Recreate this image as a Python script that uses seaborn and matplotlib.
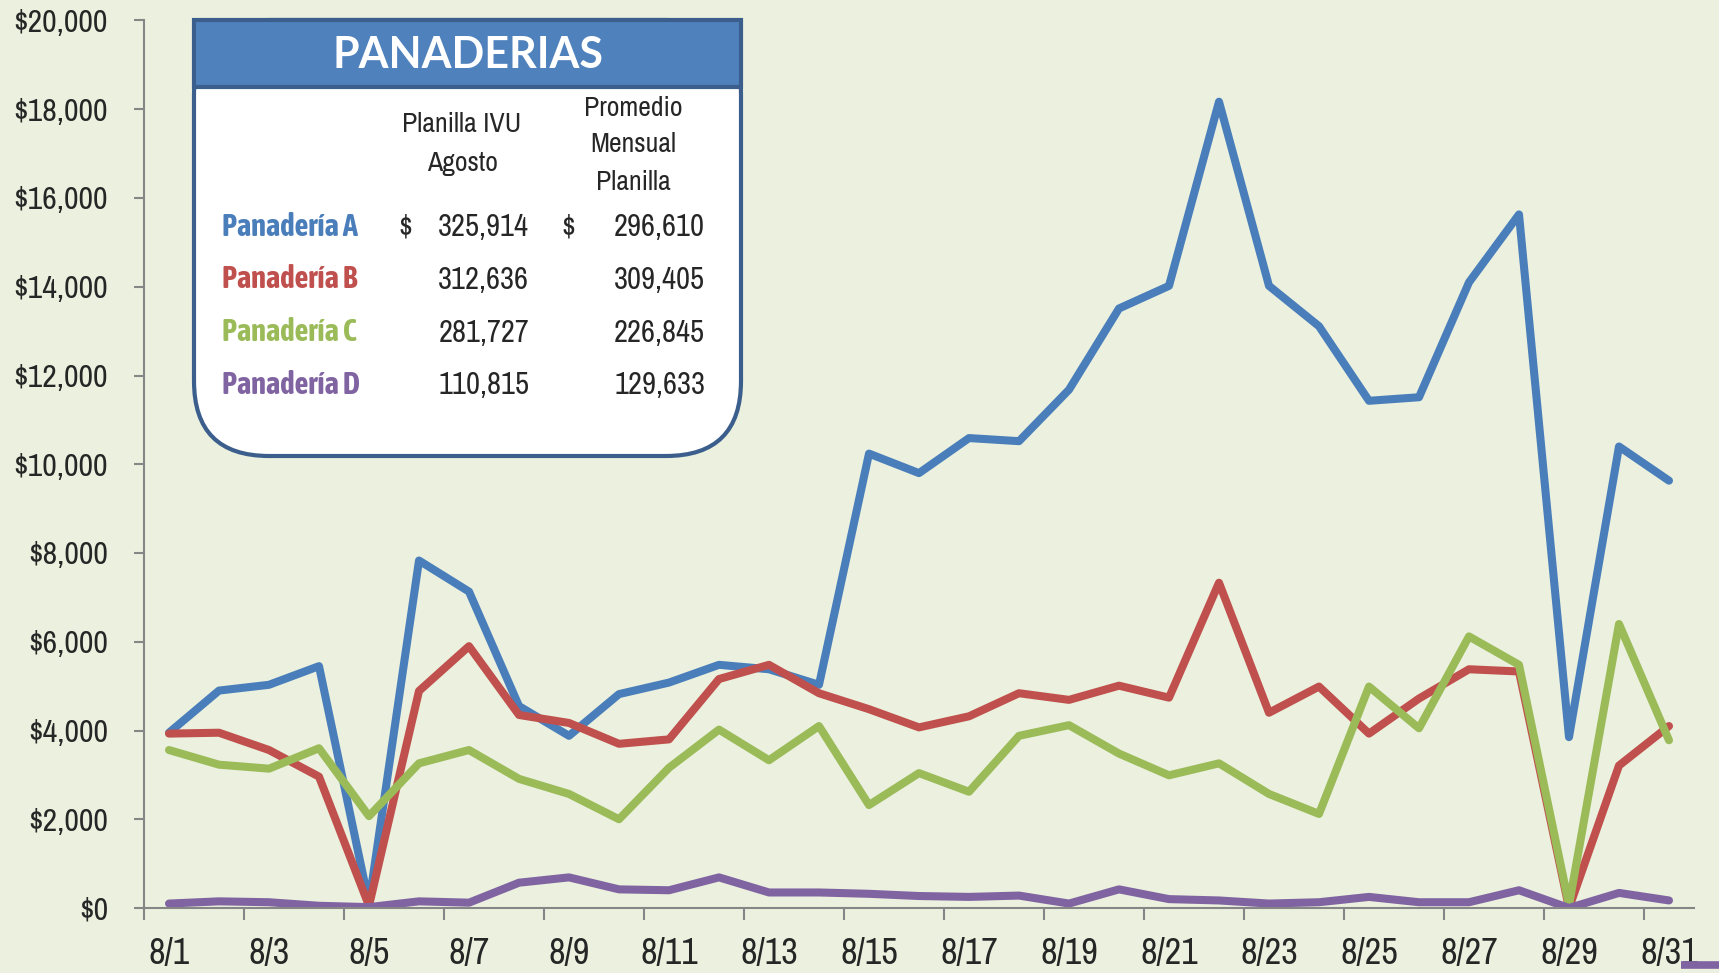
import numpy as np
import pandas as pd
import matplotlib.pyplot as plt
import matplotlib.ticker as ticker
import seaborn as sns
from matplotlib import font_manager
from matplotlib.patches import FancyBboxPatch, Rectangle

# datos diarios de ventas (agosto)
dias = [f'8/{d}' for d in range(1, 32)]
panaderia_a = [3950, 4900, 5030, 5450, 100, 7830, 7130, 4550, 3880, 4820,
               5080, 5480, 5380, 5030, 10240, 9800, 10590, 10520, 11680, 13510,
               14020, 18170, 14020, 13110, 11430, 11510, 14100, 15630, 3850, 10400,
               9630]
panaderia_b = [3930, 3950, 3560, 2960, 50, 4890, 5900, 4350, 4170, 3700,
               3800, 5160, 5480, 4840, 4480, 4070, 4320, 4840, 4690, 5010,
               4740, 7330, 4400, 4990, 3930, 4720, 5380, 5330, 0, 3210,
               4100]
panaderia_c = [3560, 3230, 3140, 3600, 2070, 3260, 3560, 2910, 2570, 2000,
               3160, 4020, 3330, 4100, 2320, 3040, 2620, 3880, 4120, 3480,
               2990, 3260, 2570, 2120, 4990, 4050, 6120, 5480, 70, 6400,
               3780]
panaderia_d = [100, 150, 130, 50, 20, 150, 120, 570, 690, 420,
               400, 690, 350, 350, 320, 270, 250, 280, 100, 420,
               200, 170, 100, 130, 250, 130, 130, 400, 0, 340,
               170]

# tabla del recuadro
nombres = ['Panadería A', 'Panadería B', 'Panadería C', 'Panadería D']
planilla_agosto = ['325,914', '312,636', '281,727', '110,815']
promedio_mensual = ['296,610', '309,405', '226,845', '129,633']

colores = ['#4A7EBB', '#C0504D', '#9BBB59', '#8064A2']
BG = '#EBF1DE'
GRIS = '#868686'

sns.set_style('ticks')
nombres_fuentes = {f.name for f in font_manager.fontManager.ttflist}
if 'Archivo Narrow' in nombres_fuentes:
    NARROW = dict(fontfamily='Archivo Narrow')
else:
    NARROW = dict(fontfamily='Open Sans', fontstretch='condensed')
# negrita estrecha para los nombres de la tabla
if 'Asap Condensed' in nombres_fuentes:
    NARROW_B = dict(fontfamily='Asap Condensed', fontweight='bold')
else:
    NARROW_B = dict(fontfamily='Open Sans', fontstretch='condensed', fontweight='bold')
TITULO = 'Lato' if 'Lato' in nombres_fuentes else 'DejaVu Sans'

df = pd.DataFrame({
    'dia': list(range(len(dias))) * 4,
    'ventas': panaderia_a + panaderia_b + panaderia_c + panaderia_d,
    'panaderia': sum([[n] * len(dias) for n in nombres], []),
})

W, H = 1719, 973
fig = plt.figure(figsize=(W / 100, H / 100), dpi=100, facecolor=BG)
ax = fig.add_axes([144 / W, 1 - 908 / H, (1694 - 144) / W, (908 - 20.5) / H])
ax.set_facecolor(BG)

sns.lineplot(data=df, x='dia', y='ventas', hue='panaderia', hue_order=nombres,
             palette=colores, linewidth=5.8, estimator=None, sort=False,
             legend=False, ax=ax, solid_capstyle='round', solid_joinstyle='round')

ax.set_xlim(-0.5, len(dias) - 0.5)
ax.set_ylim(0, 20000)
ax.set_xlabel('')
ax.set_ylabel('')

# ejes estilo Excel
for lado in ['top', 'right']:
    ax.spines[lado].set_visible(False)
for lado in ['left', 'bottom']:
    ax.spines[lado].set_color(GRIS)
    ax.spines[lado].set_linewidth(1.5)

ax.yaxis.set_major_locator(ticker.MultipleLocator(2000))
ax.yaxis.set_major_formatter(ticker.FuncFormatter(lambda v, p: f'${v:,.0f}'))
ax.tick_params(axis='y', length=7, width=1.5, color=GRIS, pad=19)
for lab in ax.get_yticklabels():
    lab.set(fontsize=23, **NARROW)

ax.set_xticks(range(0, len(dias), 2))
ax.set_xticklabels(dias[::2], fontsize=26, **NARROW)
ax.set_xticks(np.arange(-0.5, len(dias) - 1, 2), minor=True)
ax.tick_params(axis='x', which='major', length=0, pad=21)
ax.tick_params(axis='x', which='minor', length=8.5, width=1.5, color=GRIS)

# capa superior en píxeles para el recuadro
ov = fig.add_axes([0, 0, 1, 1], zorder=5)
ov.set_xlim(0, W)
ov.set_ylim(H, 0)
ov.axis('off')

caja = FancyBboxPatch((194, 20), 547, 436, boxstyle='round,pad=0,rounding_size=75',
                      facecolor='white', edgecolor='#3B5E8C', linewidth=3)
ov.add_patch(caja)
ov.add_patch(Rectangle((194, 20), 547, 67, facecolor='#4F81BD',
                       edgecolor='#3B5E8C', linewidth=3))
ov.text(468, 55, 'PANADERIAS', color='white', fontsize=31, fontweight='bold',
        fontfamily=TITULO, ha='center', va='center')

ov.text(462, 125, 'Planilla IVU', fontsize=20, ha='center', va='center', **NARROW)
ov.text(462, 163, 'Agosto', fontsize=20, ha='center', va='center', **NARROW)
for y, t in zip([108, 145, 182], ['Promedio', 'Mensual', 'Planilla']):
    ov.text(633, y, t, fontsize=20, ha='center', va='center', **NARROW)

for i, (n, a, b) in enumerate(zip(nombres, planilla_agosto, promedio_mensual)):
    y = 227 + i * 52.8
    ov.text(222, y, n, color=colores[i], fontsize=22,
            ha='left', va='center', **NARROW_B)
    ov.text(529, y, a, fontsize=22, ha='right', va='center', **NARROW)
    ov.text(705, y, b, fontsize=22, ha='right', va='center', **NARROW)
    if i == 0:
        ov.text(405, y, '$', fontsize=22, ha='center', va='center', **NARROW)
        ov.text(568, y, '$', fontsize=22, ha='center', va='center', **NARROW)

# trozo de leyenda cortado abajo a la derecha
ov.plot([1681, 1719], [965, 965], color=colores[3], linewidth=5.5, solid_capstyle='butt')

fig.savefig('out.png', dpi=100, facecolor=BG)
